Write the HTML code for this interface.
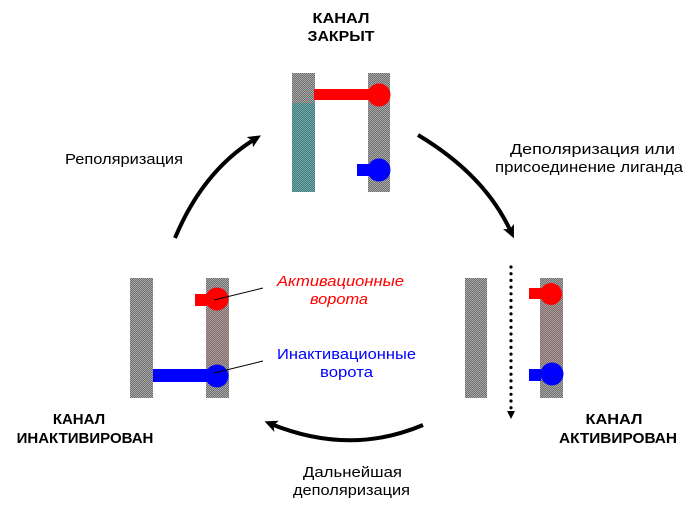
<!DOCTYPE html>
<html><head><meta charset="utf-8"><style>
html,body{margin:0;padding:0;background:#fff;}
svg{display:block;}
text{font-family:"Liberation Sans",Arial,sans-serif;}
</style></head><body>
<svg width="691" height="507" viewBox="0 0 691 507" xmlns="http://www.w3.org/2000/svg">
<defs>
<pattern id="g" width="2" height="2" patternUnits="userSpaceOnUse">
<rect width="2" height="2" fill="#6e6e6e"/><rect width="1" height="1" fill="#a8a8a8"/><rect x="1" y="1" width="1" height="1" fill="#a8a8a8"/>
</pattern>
<pattern id="t" width="2" height="2" patternUnits="userSpaceOnUse">
<rect width="2" height="2" fill="#3e7d7d"/><rect width="1" height="1" fill="#79a5a5"/><rect x="1" y="1" width="1" height="1" fill="#79a5a5"/>
</pattern>
<pattern id="p" width="2" height="2" patternUnits="userSpaceOnUse">
<rect width="2" height="2" fill="#737373"/><rect width="1" height="1" fill="#b89494"/><rect x="1" y="1" width="1" height="1" fill="#b89494"/>
</pattern>
<marker id="ah" markerUnits="userSpaceOnUse" markerWidth="16" markerHeight="14" refX="6" refY="6" orient="auto">
<path d="M0,0 L13,6 L0,12 L3,6 z" fill="#000"/>
</marker>
</defs>

<!-- Top channel (closed) -->
<rect x="292" y="73" width="23" height="30" fill="url(#g)"/>
<rect x="292" y="103" width="23" height="89" fill="url(#t)"/>
<rect x="368" y="73" width="22" height="119" fill="url(#g)"/>
<rect x="314" y="89" width="64" height="11" fill="#ff0000"/>
<circle cx="379" cy="95" r="11.5" fill="#ff0000"/>
<rect x="357" y="164" width="12" height="12" fill="#0000ff"/>
<circle cx="379" cy="170" r="11.5" fill="#0000ff"/>

<!-- Bottom-left channel (inactivated) -->
<rect x="130" y="278" width="23" height="120" fill="url(#g)"/>
<rect x="206" y="278" width="23" height="120" fill="url(#g)"/>
<rect x="206" y="310" width="23" height="55" fill="url(#p)"/>
<rect x="195" y="294" width="12" height="12" fill="#ff0000"/>
<circle cx="217" cy="299" r="11.5" fill="#ff0000"/>
<rect x="153" y="369" width="64" height="13" fill="#0000ff"/>
<circle cx="217" cy="376" r="11.5" fill="#0000ff"/>
<line x1="214" y1="300" x2="263" y2="288" stroke="#000" stroke-width="1"/>
<line x1="214" y1="373" x2="263" y2="361" stroke="#000" stroke-width="1"/>

<!-- Right channel (activated) -->
<rect x="465" y="278" width="22" height="120" fill="url(#g)"/>
<rect x="540" y="278" width="23" height="120" fill="url(#g)"/>
<rect x="540" y="305" width="23" height="60" fill="url(#p)"/>
<rect x="529" y="288" width="12" height="11" fill="#ff0000"/>
<circle cx="551" cy="294" r="11" fill="#ff0000"/>
<rect x="529" y="369" width="12" height="12" fill="#0000ff"/>
<circle cx="552" cy="374" r="11.5" fill="#0000ff"/>

<!-- Dotted line -->
<line x1="511" y1="267" x2="511" y2="410" stroke="#000" stroke-width="3.2" stroke-linecap="round" stroke-dasharray="0 6.7"/>
<path d="M507,411 L515,411 L511,419 z" fill="#000"/>

<!-- Curved arrows -->
<path d="M175,238 Q203,171 255,139" fill="none" stroke="#000" stroke-width="4" marker-end="url(#ah)"/>
<path d="M418,135 Q485,175 511,232" fill="none" stroke="#000" stroke-width="4" marker-end="url(#ah)"/>
<path d="M423,425 Q350,456 271,424" fill="none" stroke="#000" stroke-width="4" marker-end="url(#ah)"/>

<!-- State labels -->
<g font-weight="bold" font-size="15" fill="#000" text-anchor="middle">
<text x="341" y="23" textLength="57" lengthAdjust="spacingAndGlyphs">КАНАЛ</text>
<text x="341" y="41" textLength="67" lengthAdjust="spacingAndGlyphs">ЗАКРЫТ</text>
<text x="79" y="424">КАНАЛ</text>
<text x="85" y="443">ИНАКТИВИРОВАН</text>
<text x="614" y="424" textLength="57" lengthAdjust="spacingAndGlyphs">КАНАЛ</text>
<text x="618" y="443" textLength="118" lengthAdjust="spacingAndGlyphs">АКТИВИРОВАН</text>
</g>

<!-- Transition labels -->
<g font-size="15" fill="#000">
<text x="65" y="164" textLength="118" lengthAdjust="spacingAndGlyphs">Реполяризация</text>
<text x="510" y="154" textLength="165" lengthAdjust="spacingAndGlyphs">Деполяризация или</text>
<text x="495" y="172" textLength="188" lengthAdjust="spacingAndGlyphs">присоединение лиганда</text>
<text x="303" y="477" textLength="99" lengthAdjust="spacingAndGlyphs">Дальнейшая</text>
<text x="293" y="495" textLength="117" lengthAdjust="spacingAndGlyphs">деполяризация</text>
</g>

<!-- Gate labels -->
<g font-size="15" fill="#ff0000" font-style="italic">
<text x="277" y="286" textLength="127" lengthAdjust="spacingAndGlyphs">Активационные</text>
<text x="310" y="304" textLength="58" lengthAdjust="spacingAndGlyphs">ворота</text>
</g>
<g font-size="15" fill="#0000ff">
<text x="277" y="359" textLength="139" lengthAdjust="spacingAndGlyphs">Инактивационные</text>
<text x="320" y="377" textLength="53" lengthAdjust="spacingAndGlyphs">ворота</text>
</g>
</svg>
</body></html>
